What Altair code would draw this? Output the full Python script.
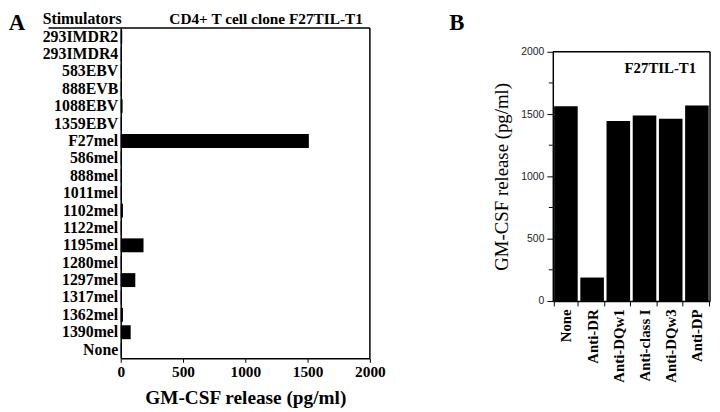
import altair as alt
import pandas as pd

# ---- data ----
stimulators = ["293IMDR2", "293IMDR4", "583EBV", "888EVB", "1088EBV", "1359EBV",
               "F27mel", "586mel", "888mel", "1011mel", "1102mel", "1122mel",
               "1195mel", "1280mel", "1297mel", "1317mel", "1362mel", "1390mel", "None"]
release_a = [12, 10, 8, 8, 15, 10, 1510, 8, 10, 10, 18, 8, 183, 8, 117, 8, 18, 80, 10]
ticks_a = [0, 500, 1000, 1500, 2000]

antibodies = ["None", "Anti-DR", "Anti-DQw1", "Anti-class I", "Anti-DQw3", "Anti-DP"]
release_b = [1563, 188, 1444, 1489, 1463, 1569]
major_b = [0, 500, 1000, 1500, 2000]
minor_b = [250, 750, 1250, 1750]

panel_letters = ["A", "B"]
header_a = ["Stimulators", "CD4+ T cell clone F27TIL-T1"]
label_b = ["F27TIL-T1"]
axis_title = "GM-CSF release (pg/ml)"

SERIF = "Liberation Serif"
SANS = "Liberation Sans"

WA, HA = 252, 334          # panel A plot
WB, HB = 159, 276          # panel B plot (frame starts 24px below top)
BTOP = 24


def one(v):
    return pd.DataFrame({"t": [v]})


# ---- panel A ----
df_a = pd.DataFrame({"stim": stimulators, "val": release_a})

bars_a = alt.Chart(df_a).mark_bar(color="black").encode(
    y=alt.Y("stim:N", sort=stimulators, title=None,
            scale=alt.Scale(paddingInner=0.2, paddingOuter=0.1),
            axis=alt.Axis(labelFont=SERIF, labelFontWeight="bold", labelFontSize=16,
                          labelColor="black", ticks=False, domainColor="black",
                          domainWidth=1.5, labelPadding=3)),
    x=alt.X("val:Q", scale=alt.Scale(domain=[0, 2000], nice=False), title=axis_title,
            axis=alt.Axis(values=ticks_a, format="d", labelFont=SERIF, labelFontWeight="bold",
                          labelFontSize=15.5, labelColor="black", titleFont=SERIF,
                          titleFontWeight="bold", titleFontSize=19.5, titleColor="black",
                          tickColor="black", domainColor="black", domainWidth=1.5,
                          tickSize=4, grid=False, titlePadding=9, labelFlush=False,
                          labelOverlap=False, labelPadding=2)),
)

letter_a = alt.Chart(one(panel_letters[0])).mark_text(
    font=SERIF, fontWeight="bold", fontSize=23, color="black", align="center",
    baseline="middle").encode(x=alt.value(-105), y=alt.value(-5.5), text="t:N")

stim_head = alt.Chart(one(header_a[0])).mark_text(
    font=SERIF, fontWeight="bold", fontSize=16, color="black", align="center",
    baseline="alphabetic").encode(x=alt.value(-39), y=alt.value(-4), text="t:N")

clone_head = alt.Chart(one(header_a[1])).mark_text(
    font=SERIF, fontWeight="bold", fontSize=15.5, color="black", align="right",
    baseline="alphabetic").encode(x=alt.value(245), y=alt.value(-4), text="t:N")

top_a = alt.Chart(one(0)).mark_rule(color="black", strokeWidth=1.5).encode(
    x=alt.value(-73), x2=alt.value(WA), y=alt.value(0))
right_a = alt.Chart(one(0)).mark_rule(color="black", strokeWidth=1.5).encode(
    x=alt.value(WA), y=alt.value(0), y2=alt.value(HA))

panel_a = alt.layer(bars_a, letter_a, stim_head, clone_head, top_a, right_a).properties(
    width=WA, height=HA)

# ---- panel B ----
df_b = pd.DataFrame({"ab": antibodies, "val": release_b})
df_minor = pd.DataFrame({"val": minor_b})

y_scale_b = alt.Scale(domain=[0, 2000], nice=False, range=[HB, BTOP])
y_axis_b = alt.Axis(values=major_b, format="d", labelFont=SANS, labelFontSize=10.5,
                    labelColor="#222222", tickSize=6, tickColor="black",
                    domainColor="black", domainWidth=1.5, grid=False,
                    titleFont=SERIF, titleFontWeight="normal", titleFontSize=19,
                    titleColor="black", titlePadding=9, labelPadding=3)

bars_b = alt.Chart(df_b).mark_bar(color="black").encode(
    x=alt.X("ab:N", sort=antibodies, title=None,
            scale=alt.Scale(paddingInner=0.1, paddingOuter=0.05),
            axis=alt.Axis(labelAngle=270, labelFont=SERIF, labelFontWeight="bold",
                          labelFontSize=15, labelColor="black", tickBand="extent",
                          tickColor="black", tickSize=5, domainColor="black",
                          domainWidth=1.5, labelAlign="right", labelBaseline="middle",
                          labelPadding=3)),
    y=alt.Y("val:Q", scale=y_scale_b, title=axis_title, axis=y_axis_b),
)

minor_ticks = alt.Chart(df_minor).mark_rule(color="black").encode(
    y=alt.Y("val:Q", scale=y_scale_b, title=axis_title, axis=y_axis_b),
    x=alt.value(-4), x2=alt.value(0))

letter_b = alt.Chart(one(panel_letters[1])).mark_text(
    font=SERIF, fontWeight="bold", fontSize=23, color="black", align="center",
    baseline="middle").encode(x=alt.value(-97), y=alt.value(-5.5), text="t:N")

clone_b = alt.Chart(pd.DataFrame({"t": label_b})).mark_text(
    font=SERIF, fontWeight="bold", fontSize=15, color="black", align="right",
    baseline="alphabetic").encode(x=alt.value(WB - 14), y=alt.value(BTOP + 21), text="t:N")

top_b = alt.Chart(one(0)).mark_rule(color="black", strokeWidth=1.5).encode(
    x=alt.value(0), x2=alt.value(WB), y=alt.value(BTOP))
right_b = alt.Chart(one(0)).mark_rule(color="black", strokeWidth=1.5).encode(
    x=alt.value(WB), y=alt.value(BTOP), y2=alt.value(HB))

panel_b = alt.layer(bars_b, minor_ticks, letter_b, clone_b, top_b, right_b).properties(
    width=WB, height=HB)

chart = alt.hconcat(panel_a, panel_b, spacing=63).properties(
    background="white", padding=0
).configure_view(stroke="transparent")

chart.save("out.html", embed_options={"renderer": "svg", "actions": False})
